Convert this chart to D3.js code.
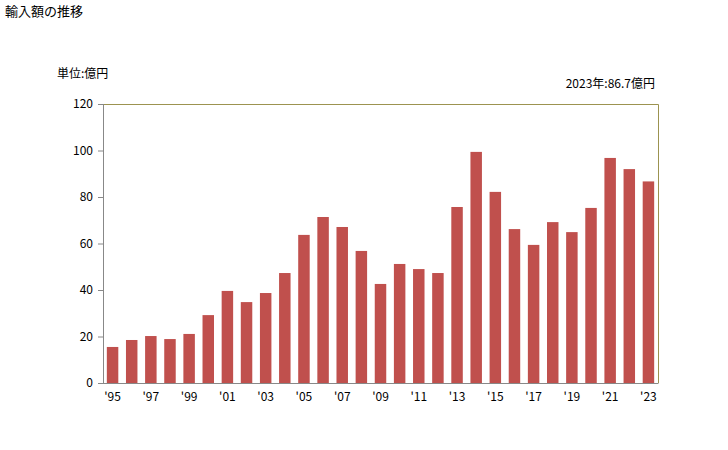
<!DOCTYPE html>
<html><head><meta charset="utf-8">
<script src="https://cdn.jsdelivr.net/npm/d3@7"></script>
<style>body{margin:0;background:#fff}svg{display:block}text{font-family:"Noto Sans CJK JP","DejaVu Sans",sans-serif}</style>
</head><body>
<script>
const years = [1995,1996,1997,1998,1999,2000,2001,2002,2003,2004,2005,2006,2007,2008,2009,2010,2011,2012,2013,2014,2015,2016,2017,2018,2019,2020,2021,2022,2023];
const values = [15.5,18.5,20.2,18.9,21.1,29.2,39.6,34.8,38.7,47.3,63.7,71.4,67.1,56.8,42.6,51.2,49.0,47.3,75.7,99.4,82.2,66.2,59.4,69.2,64.9,75.3,96.8,92.0,86.7];
const yTicks = [0,20,40,60,80,100,120];
const title = "輸入額の推移";
const unitLabel = "単位:億円";
const note = "2023年:86.7億円";

const W=728,H=450, L=103,R=658,T=104,B=383;
const svg=d3.select("body").append("svg").attr("width",W).attr("height",H);
const x=d3.scaleBand().domain(years).range([L,R]).paddingInner(0.4).paddingOuter(0.2);
const y=d3.scaleLinear().domain([0,120]).range([B,T]);

svg.append("text").attr("x",5).attr("y",16).attr("font-size",13).text(title);
svg.append("text").attr("x",57).attr("y",78).attr("font-size",12).text(unitLabel);
svg.append("text").attr("x",655).attr("y",88).attr("text-anchor","end").attr("font-size",12).text(note);

// frame top/right
svg.append("path").attr("d",`M${L},${T+0.5}H${R+0.5}V${B}`).attr("fill","none").attr("stroke","#9c9350").attr("stroke-width",1);

svg.selectAll("rect.bar").data(years).enter().append("rect")
  .attr("x",d=>x(d)).attr("width",x.bandwidth())
  .attr("y",(d,i)=>y(values[i])).attr("height",(d,i)=>B-y(values[i]))
  .attr("fill","#c0504d");

const ya=svg.append("g").attr("transform",`translate(${L},0)`)
  .call(d3.axisLeft(y).tickValues(yTicks).tickSize(5).tickPadding(5));
ya.select(".domain").attr("stroke","#888").attr("d",`M0.5,${T}V${B+0.5}`);
ya.selectAll(".tick line").attr("stroke","#888");
ya.selectAll("text").attr("font-size",12).attr("fill","#000").attr("font-family","Liberation Sans, Arial, sans-serif");

const xa=svg.append("g").attr("transform",`translate(0,${B})`)
  .call(d3.axisBottom(x).tickValues(years.filter((d,i)=>i%2===0)).tickSize(0).tickPadding(9)
  .tickFormat(d=>"'"+String(d).slice(2)));
xa.select(".domain").attr("stroke","#888").attr("d",`M${L},0.5H${R+0.5}`);
xa.selectAll("text").attr("font-size",12).attr("fill","#000").attr("font-family","Liberation Sans, Arial, sans-serif");
</script>
</body></html>
